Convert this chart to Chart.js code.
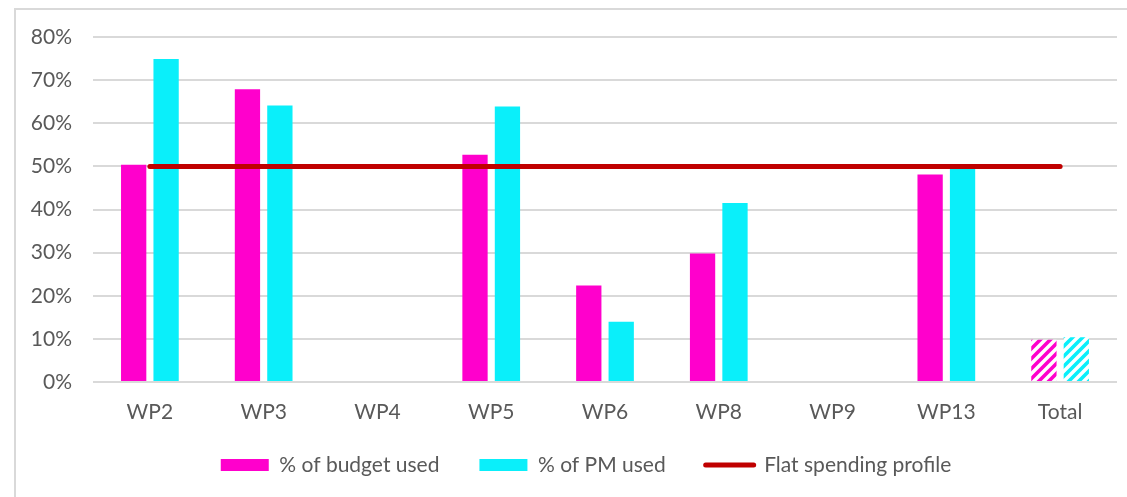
<!DOCTYPE html>
<html><head><meta charset="utf-8">
<script src="https://cdn.jsdelivr.net/npm/chart.js@4.4.1/dist/chart.umd.min.js"></script>
<style>
html,body{margin:0;padding:0;background:#fff;overflow:hidden}
#frame{position:absolute;left:14px;top:8px;width:1200px;height:600px;border-top:2px solid #d9d9d9;border-left:2px solid #d9d9d9;box-sizing:border-box}
#wrap{position:absolute;left:0;top:0;width:1127px;height:497px}
</style></head><body>
<div id="frame"></div>
<div id="wrap"><canvas id="c" width="1127" height="497"></canvas></div>
<script>
const categories = ['WP2','WP3','WP4','WP5','WP6','WP8','WP9','WP13','Total'];
const budgetUsed = [50.4, 67.9, null, 52.7, 22.4, 29.8, null, 48.1, 9.8];
const pmUsed = [74.9, 64.1, null, 63.9, 14.0, 41.5, null, 49.5, 10.4];
const flatProfile = [50, 50, 50, 50, 50, 50, 50, 50, 50];
const seriesNames = ['% of budget used', '% of PM used', 'Flat spending profile'];
const seriesColors = ['#FF00CC', '#0AEFFA', '#C00000'];
const yTickMax = 80;
const yTickStep = 10;

function hatch(color){
  const s = 10;
  const c = document.createElement('canvas'); c.width = s; c.height = s;
  const g = c.getContext('2d');
  g.fillStyle = '#fff'; g.fillRect(0,0,s,s);
  g.strokeStyle = color; g.lineWidth = 3.6;
  g.beginPath();
  g.moveTo(0,s); g.lineTo(s,0);
  g.moveTo(-s/2,s/2); g.lineTo(s/2,-s/2);
  g.moveTo(s/2,s*1.5); g.lineTo(s*1.5,s/2);
  g.stroke();
  return g.createPattern(c,'repeat');
}
function barColors(color){
  const p = hatch(color);
  return categories.map(c => c === 'Total' ? p : color);
}

const FONT = 'Lato';
const FS = 21;
const TXT = '#595959';

const legendShift = {
  id:'legendShift',
  afterLayout(chart){
    const l = chart.legend;
    const dy = 414.5 - l.top;
    l.top += dy; l.bottom += dy;
    l.left += 27.5; l.right += 27.5;
  }
};

new Chart(document.getElementById('c'), {
  type: 'bar',
  data: {
    labels: categories,
    datasets: [
      { type:'line', label: seriesNames[2], data: flatProfile, borderColor: seriesColors[2], backgroundColor: seriesColors[2],
        borderWidth: 5, borderCapStyle:'round', pointRadius:0, pointHoverRadius:0, order:0, tension:0 },
      { label: seriesNames[0], data: budgetUsed, backgroundColor: barColors(seriesColors[0]), borderWidth:0,
        categoryPercentage:0.57, barPercentage:0.78, order:1 },
      { label: seriesNames[1], data: pmUsed, backgroundColor: barColors(seriesColors[1]), borderWidth:0,
        categoryPercentage:0.57, barPercentage:0.78, order:1 }
    ]
  },
  plugins:[legendShift],
  options: {
    responsive:false, animation:false,
    layout:{ padding:{ left:0, right:10, top:37, bottom:-17.2 } },
    scales:{
      x:{
        grid:{ display:false, drawTicks:false }, border:{ display:false },
        ticks:{ color:TXT, font:{ family:FONT, size:FS }, padding:18 }
      },
      y:{
        min:0, max:yTickMax,
        grid:{ color:'#d9d9d9', lineWidth:2, drawTicks:false }, border:{ display:false },
        ticks:{ stepSize:yTickStep, color:TXT, font:{ family:FONT, size:FS }, padding:21, callback: v => v + '%' },
        afterFit: s => { s.width = 93; }
      }
    },
    plugins:{
      tooltip:{ enabled:false },
      legend:{
        position:'bottom',
        labels:{
          usePointStyle:true, pointStyleWidth:48, boxHeight:12, padding:40,
          color:TXT, font:{ family:FONT, size:FS },
          generateLabels: (chart) => {
            const order = [1,2,0];
            return order.map(i => {
              const ds = chart.data.datasets[i];
              const isLine = ds.type === 'line';
              const col = isLine ? seriesColors[2] : seriesColors[i-1];
              return { text: ds.label, fillStyle: col,
                strokeStyle: isLine ? col : 'rgba(0,0,0,0)',
                lineWidth: isLine ? 5 : 0, lineCap:'round', pointStyle: isLine ? 'line' : 'rect',
                hidden:false, datasetIndex:i, fontColor:TXT };
            });
          }
        }
      }
    }
  }
});
</script>
</body></html>
